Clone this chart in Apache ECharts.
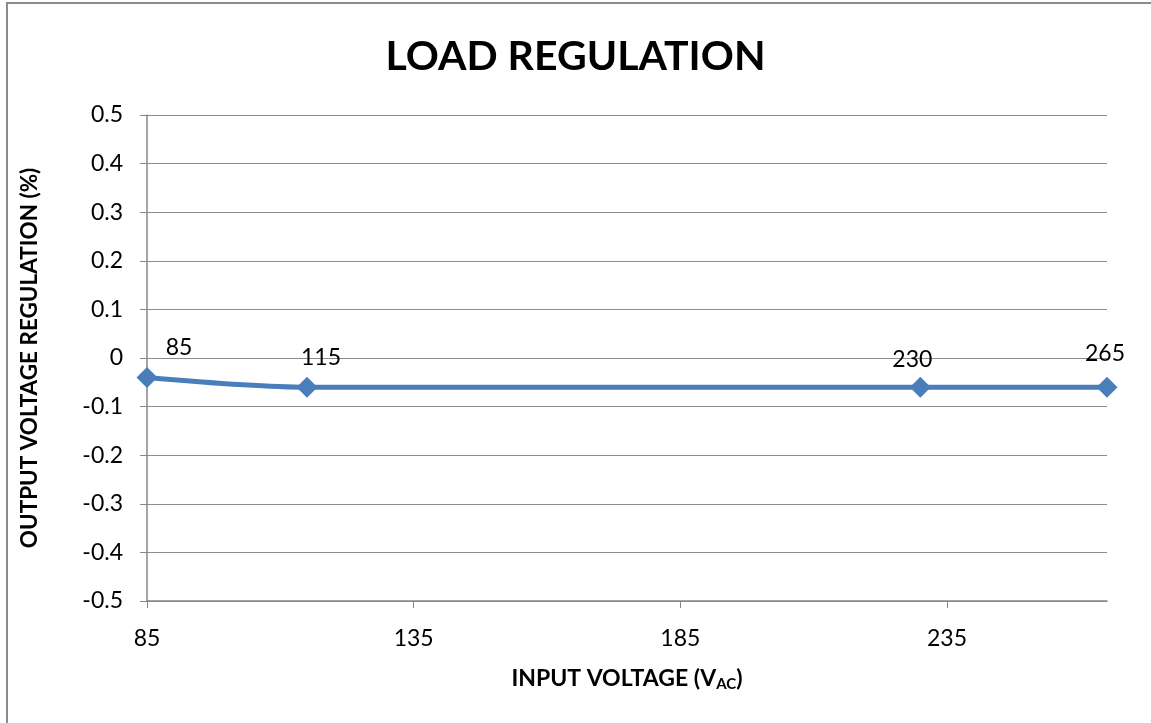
<!DOCTYPE html>
<html><head><meta charset="utf-8">
<script src="https://cdn.jsdelivr.net/npm/echarts@6/dist/echarts.min.js"></script>
<style>html,body{margin:0;padding:0;background:#fff}#c{width:1151px;height:723px}</style>
</head><body><div id="c"></div>
<script>
const inputVoltage = [85, 115, 230, 265];
const regulation = [-0.04, -0.06, -0.06, -0.06];
const pointLabels = ['85', '115', '230', '265'];
const xTicks = [85, 135, 185, 235];
const labelOffsets = [[32, 0], [14, 0], [-8, 2], [-2, -4]];

const FONT = 'Lato, "Open Sans", sans-serif';
const chart = echarts.init(document.getElementById('c'), null, {renderer: 'canvas'});
chart.setOption({
  animation: false,
  backgroundColor: '#fff',
  graphic: [{
    type: 'rect', shape: {x: 7, y: 3, width: 1160, height: 740},
    style: {fill: 'none', stroke: '#8c8c8c', lineWidth: 2}, silent: true
  }],
  title: {
    text: 'LOAD REGULATION', left: 'center', top: 31,
    textStyle: {fontFamily: FONT, fontSize: 41, fontWeight: 'bold', color: '#000'}
  },
  grid: {left: 147, right: 44, top: 115, bottom: 122},
  xAxis: {
    type: 'value', min: 85, max: 265, interval: 50,
    name: 'INPUT VOLTAGE (V{sub|AC})', nameLocation: 'middle', nameGap: 64,
    nameTextStyle: {fontFamily: FONT, fontSize: 23, fontWeight: 'bold', color: '#000',
      rich: {sub: {fontFamily: FONT, fontSize: 15, fontWeight: 'bold', verticalAlign: 'bottom', padding: [12, 0, 0, 0]}}},
    axisLine: {show: true, onZero: false, lineStyle: {color: '#868686', width: 1.5}},
    axisTick: {show: true, length: 7, customValues: xTicks, lineStyle: {color: '#868686'}},
    axisLabel: {fontFamily: FONT, fontSize: 23, color: '#000', margin: 26, customValues: xTicks},
    splitLine: {show: false}
  },
  yAxis: {
    type: 'value', min: -0.5, max: 0.5, interval: 0.1,
    name: 'OUTPUT VOLTAGE REGULATION (%)', nameLocation: 'middle', nameGap: 106,
    nameTextStyle: {fontFamily: FONT, fontSize: 22.5, fontWeight: 'bold', color: '#000'},
    axisLine: {show: true, lineStyle: {color: '#868686', width: 1.5}},
    axisTick: {show: true, length: 7, lineStyle: {color: '#868686'}},
    axisLabel: {fontFamily: FONT, fontSize: 23, color: '#000', margin: 24,
      formatter: v => { const r = Math.round(v * 10) / 10; return r === 0 ? '0' : String(r); }},
    splitLine: {show: true, lineStyle: {color: '#8c8c8c', width: 1}}
  },
  series: [{
    type: 'line', smooth: 0.3,
    data: inputVoltage.map((x, i) => ({
      value: [x, regulation[i]],
      label: {show: true, position: 'top', offset: labelOffsets[i], formatter: pointLabels[i]}
    })),
    symbol: 'diamond', symbolSize: 21,
    lineStyle: {color: '#4a7ebb', width: 5},
    itemStyle: {color: '#4a7ebb'},
    label: {fontFamily: FONT, fontSize: 23, color: '#000', distance: 8}
  }]
});
</script></body></html>
